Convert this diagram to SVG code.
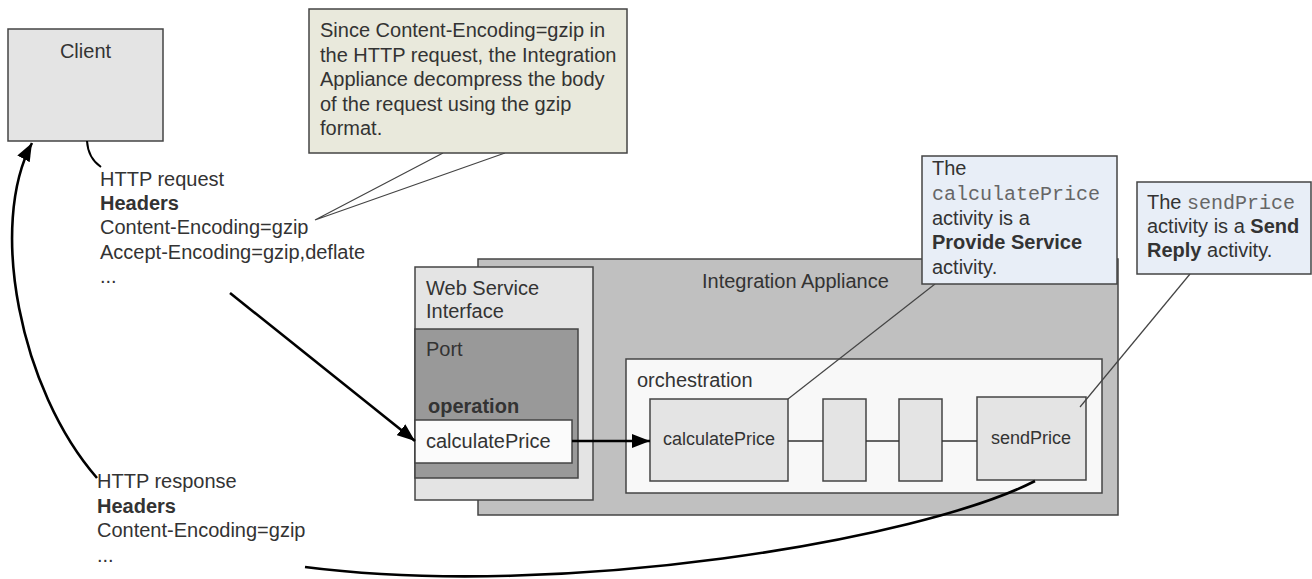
<svg xmlns="http://www.w3.org/2000/svg" width="1312" height="579" viewBox="0 0 1312 579">
<style>
.t{font-family:"Liberation Sans",Arial,sans-serif;font-size:20px;fill:#333}
.s{font-size:18px}
.b{font-weight:bold}
.m{font-family:"Liberation Mono","Courier New",monospace;fill:#666}
.box{stroke:#444;stroke-width:1.5}
.thin{stroke:#444;stroke-width:1.2;fill:none}
.arr{stroke:#000;stroke-width:2.6;fill:none}
</style>
<defs>
<marker id="ah" markerWidth="20" markerHeight="14" refX="18" refY="7" orient="auto" markerUnits="userSpaceOnUse">
<path d="M0,0 L18,7 L0,14 z" fill="#000"/>
</marker>
</defs>
<rect width="1312" height="579" fill="#fff"/>

<g id="client">
<rect class="box" x="8" y="29" width="155" height="112" fill="#e4e4e4"/>
<text class="t" x="85.5" y="58" text-anchor="middle">Client</text>
</g>

<g id="request-label">
<text class="t" x="100" y="186">HTTP request</text>
<text class="t b" x="100" y="210">Headers</text>
<text class="t" x="100" y="234">Content-Encoding=gzip</text>
<text class="t" x="100" y="259">Accept-Encoding=gzip,deflate</text>
<text class="t" x="100" y="283">...</text>
</g>

<g id="gzip-callout">
<polyline class="thin" points="443,153 315,220 505,153" stroke="#555"/>
<rect class="box" x="309" y="9" width="318" height="144" fill="#e9e9dc"/>
<text class="t" x="320" y="37">Since Content-Encoding=gzip in</text>
<text class="t" x="320" y="62">the HTTP request, the Integration</text>
<text class="t" x="320" y="86">Appliance decompress the body</text>
<text class="t" x="320" y="111">of the request using the gzip</text>
<text class="t" x="320" y="135">format.</text>
</g>

<g id="integration-appliance">
<rect class="box" x="478" y="259" width="640" height="256" fill="#c0c0c0"/>
<text class="t" x="702" y="288">Integration Appliance</text>
</g>

<g id="web-service-interface">
<rect class="box" x="415" y="267" width="178" height="233" fill="#e4e4e4"/>
<text class="t" x="426" y="295">Web Service</text>
<text class="t" x="426" y="318">Interface</text>
</g>

<g id="port">
<rect class="box" x="415" y="329" width="163" height="149" fill="#999"/>
<text class="t" x="426" y="356">Port</text>
<text class="t b" x="428" y="413">operation</text>
</g>

<g id="operation-calculatePrice">
<rect class="box" x="415" y="420" width="157" height="43" fill="#fbfbfb"/>
<text class="t" x="426" y="448">calculatePrice</text>
</g>

<g id="orchestration">
<rect class="box" x="626" y="359" width="476" height="134" fill="#f8f8f8"/>
<text class="t" x="637" y="387">orchestration</text>
</g>

<g id="activity-calculatePrice">
<rect class="box" x="650" y="399" width="138" height="82" fill="#e4e4e4"/>
<text class="t s" x="719" y="445" text-anchor="middle">calculatePrice</text>
</g>

<g id="activity-2">
<rect class="box" x="823" y="399" width="43" height="82" fill="#e4e4e4"/>
</g>

<g id="activity-3">
<rect class="box" x="899" y="399" width="43" height="82" fill="#e4e4e4"/>
</g>

<g id="activity-sendPrice">
<rect class="box" x="977" y="397" width="109" height="83" fill="#e4e4e4"/>
<text class="t s" x="1031" y="444" text-anchor="middle">sendPrice</text>
</g>

<g id="calculatePrice-callout">
<line class="thin" x1="935" y1="284" x2="788" y2="399"/>
<rect class="box" x="922" y="156" width="195" height="128" fill="#e8eef7"/>
<text class="t" x="932" y="175">The</text>
<text class="t m" x="932" y="200">calculatePrice</text>
<text class="t" x="932" y="225">activity is a</text>
<text class="t b" x="932" y="249">Provide Service</text>
<text class="t" x="932" y="274">activity.</text>
</g>

<g id="sendPrice-callout">
<line class="thin" x1="1190" y1="274" x2="1080" y2="407"/>
<rect class="box" x="1137" y="182" width="174" height="92" fill="#e8eef7"/>
<text class="t" x="1147" y="209">The <tspan class="m">sendPrice</tspan></text>
<text class="t" x="1147" y="233">activity is a <tspan class="b">Send</tspan></text>
<text class="t" x="1147" y="257"><tspan class="b">Reply</tspan> activity.</text>
</g>

<g id="response-label">
<text class="t" x="97" y="488">HTTP response</text>
<text class="t b" x="97" y="513">Headers</text>
<text class="t" x="97" y="537">Content-Encoding=gzip</text>
<text class="t" x="97" y="562">...</text>
</g>

<g id="connectors">
<path d="M87,141 Q88,158 101,167" stroke="#000" stroke-width="2" fill="none"/>
<line class="arr" x1="230" y1="293" x2="415" y2="441" marker-end="url(#ah)"/>
<line class="arr" x1="572" y1="441" x2="650" y2="441" marker-end="url(#ah)"/>
<line stroke="#333" stroke-width="1.5" x1="788" y1="441" x2="823" y2="441"/>
<line stroke="#333" stroke-width="1.5" x1="866" y1="441" x2="899" y2="441"/>
<line stroke="#333" stroke-width="1.5" x1="942" y1="441" x2="977" y2="441"/>
<path class="arr" d="M1035,481 C920,540 560,600 305,567"/>
<path class="arr" d="M97,478 C20,390 -12,225 32,143" marker-end="url(#ah)"/>
</g>
</svg>
